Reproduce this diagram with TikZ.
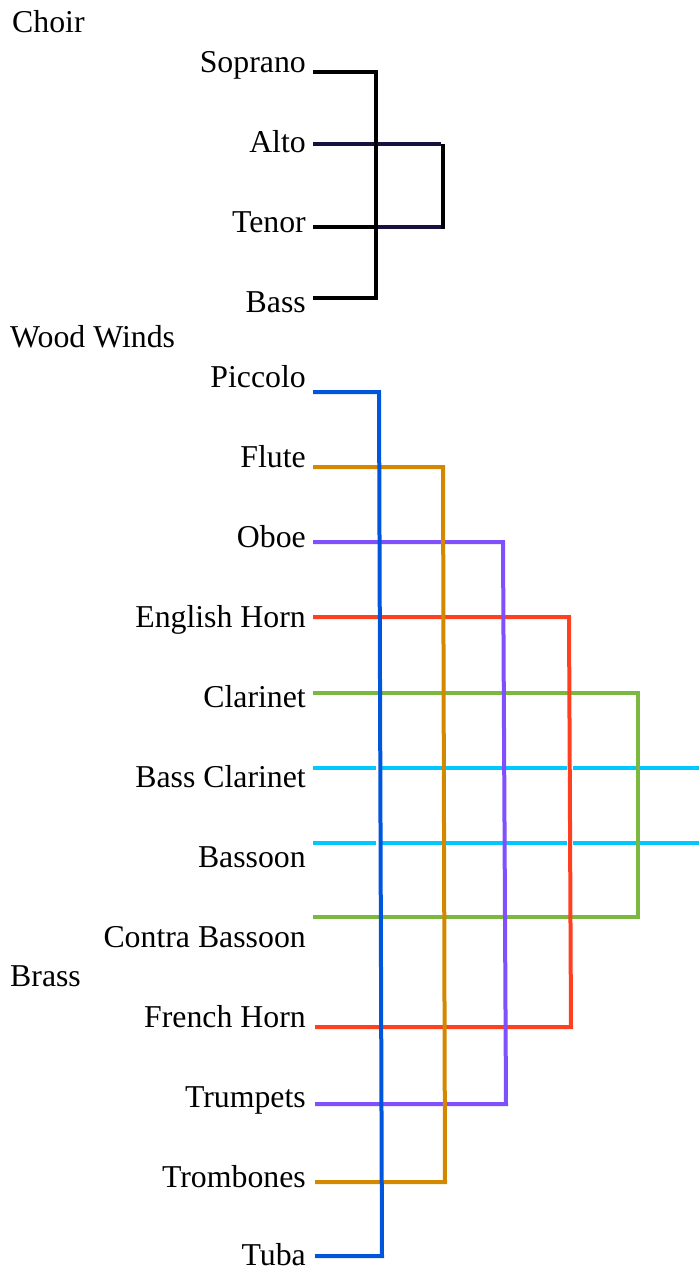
\documentclass[tikz,border=0pt]{standalone}
\usepackage{fontspec}
\setmainfont{Liberation Serif}
\definecolor{navyc}{HTML}{1A1040}
\definecolor{bluec}{HTML}{0055DD}
\definecolor{orangec}{HTML}{D48800}
\definecolor{purplec}{HTML}{8050FF}
\definecolor{redc}{HTML}{FF4020}
\definecolor{greenc}{HTML}{7AB840}
\definecolor{cyanc}{HTML}{00C8FF}
\tikzset{
  lbl/.style={anchor=base east,inner sep=0pt,font=\fontsize{31.8}{38}\selectfont},
  grp/.style={anchor=base west,inner sep=0pt,font=\fontsize{31.8}{38}\selectfont},
  wire/.style={line width=4pt,line cap=butt,line join=miter}
}
\begin{document}
\begin{tikzpicture}[x=1pt,y=-1pt]
\useasboundingbox (0,0) rectangle (699,1272);
% group titles
\node[grp] (choir) at (12,32) {Choir};
\node[grp] (ww) at (10,347) {Wood Winds};
\node[grp] (brass) at (10,986) {Brass};
% labels
\node[lbl] (sop) at (306,72) {Soprano};
\node[lbl] (alto) at (306,152) {Alto};
\node[lbl] (ten) at (306,232) {Tenor};
\node[lbl] (bass) at (306,312) {Bass};
\node[lbl] (pic) at (306,387) {Piccolo};
\node[lbl] (flu) at (306,467) {Flute};
\node[lbl] (obo) at (306,547) {Oboe};
\node[lbl] (eh) at (306,627) {English Horn};
\node[lbl] (cla) at (306,707) {Clarinet};
\node[lbl] (bcl) at (306,787) {Bass Clarinet};
\node[lbl] (bsn) at (306,867) {Bassoon};
\node[lbl] (cbn) at (306,947) {Contra Bassoon};
\node[lbl] (fh) at (306,1027) {French Horn};
\node[lbl] (tpt) at (306,1107) {Trumpets};
\node[lbl] (tbn) at (306,1187) {Trombones};
\node[lbl] (tuba) at (306,1265) {Tuba};
% choir coordinates
\coordinate (s0) at (313,72);   \coordinate (s1) at (376,72);
\coordinate (b0) at (313,298);  \coordinate (b1) at (376,298);
\coordinate (a0) at (313,144);  \coordinate (a1) at (441,144);
\coordinate (t0) at (313,227);  \coordinate (tm) at (376,227); \coordinate (t1) at (441,227);
\coordinate (r0) at (443,144);  \coordinate (r1) at (443,229);
% choir wires
\draw[wire,navyc] (a0) -- (a1);
\draw[wire,navyc] (tm) -- (t1);
\draw[wire,black] (s0) -- (s1) -- (b1) -- (b0);
\draw[wire,black] (t0) -- (tm);
\draw[wire,black] (r0) -- (r1);
% woodwind / brass coordinates
\coordinate (p0) at (313,392);  \coordinate (p1) at (379,392);
\coordinate (u0) at (315,1256); \coordinate (u1) at (382,1256);
\coordinate (f0) at (313,467);  \coordinate (f1) at (443,467);
\coordinate (o0) at (315,1182); \coordinate (o1) at (445,1182);
\coordinate (e0) at (313,542);  \coordinate (e1) at (503,542);
\coordinate (m0) at (315,1104); \coordinate (m1) at (506,1104);
\coordinate (h0) at (313,617);  \coordinate (h1) at (569,617);
\coordinate (k0) at (315,1027); \coordinate (k1) at (571,1027);
\coordinate (c0) at (313,693);  \coordinate (c1) at (638,693);
\coordinate (n0) at (313,917);  \coordinate (n1) at (638,917);
% cyan segments (broken at blue and red)
\coordinate (q0) at (313,768); \coordinate (q1) at (376,768);
\coordinate (q2) at (380,768); \coordinate (q3) at (567,768);
\coordinate (q4) at (573,768); \coordinate (q5) at (699,768);
\coordinate (w0) at (313,843); \coordinate (w1) at (376,843);
\coordinate (w2) at (380,843); \coordinate (w3) at (567,843);
\coordinate (w4) at (573,843); \coordinate (w5) at (699,843);
\draw[wire,cyanc] (q0) -- (q1) (q2) -- (q3) (q4) -- (q5);
\draw[wire,cyanc] (w0) -- (w1) (w2) -- (w3) (w4) -- (w5);
\draw[wire,greenc] (c0) -- (c1) -- (n1) -- (n0);
\draw[wire,redc] (h0) -- (h1) -- (k1) -- (k0);
\draw[wire,purplec] (e0) -- (e1) -- (m1) -- (m0);
\draw[wire,orangec] (f0) -- (f1) -- (o1) -- (o0);
\draw[wire,bluec] (p0) -- (p1) -- (u1) -- (u0);
\end{tikzpicture}
\end{document}
